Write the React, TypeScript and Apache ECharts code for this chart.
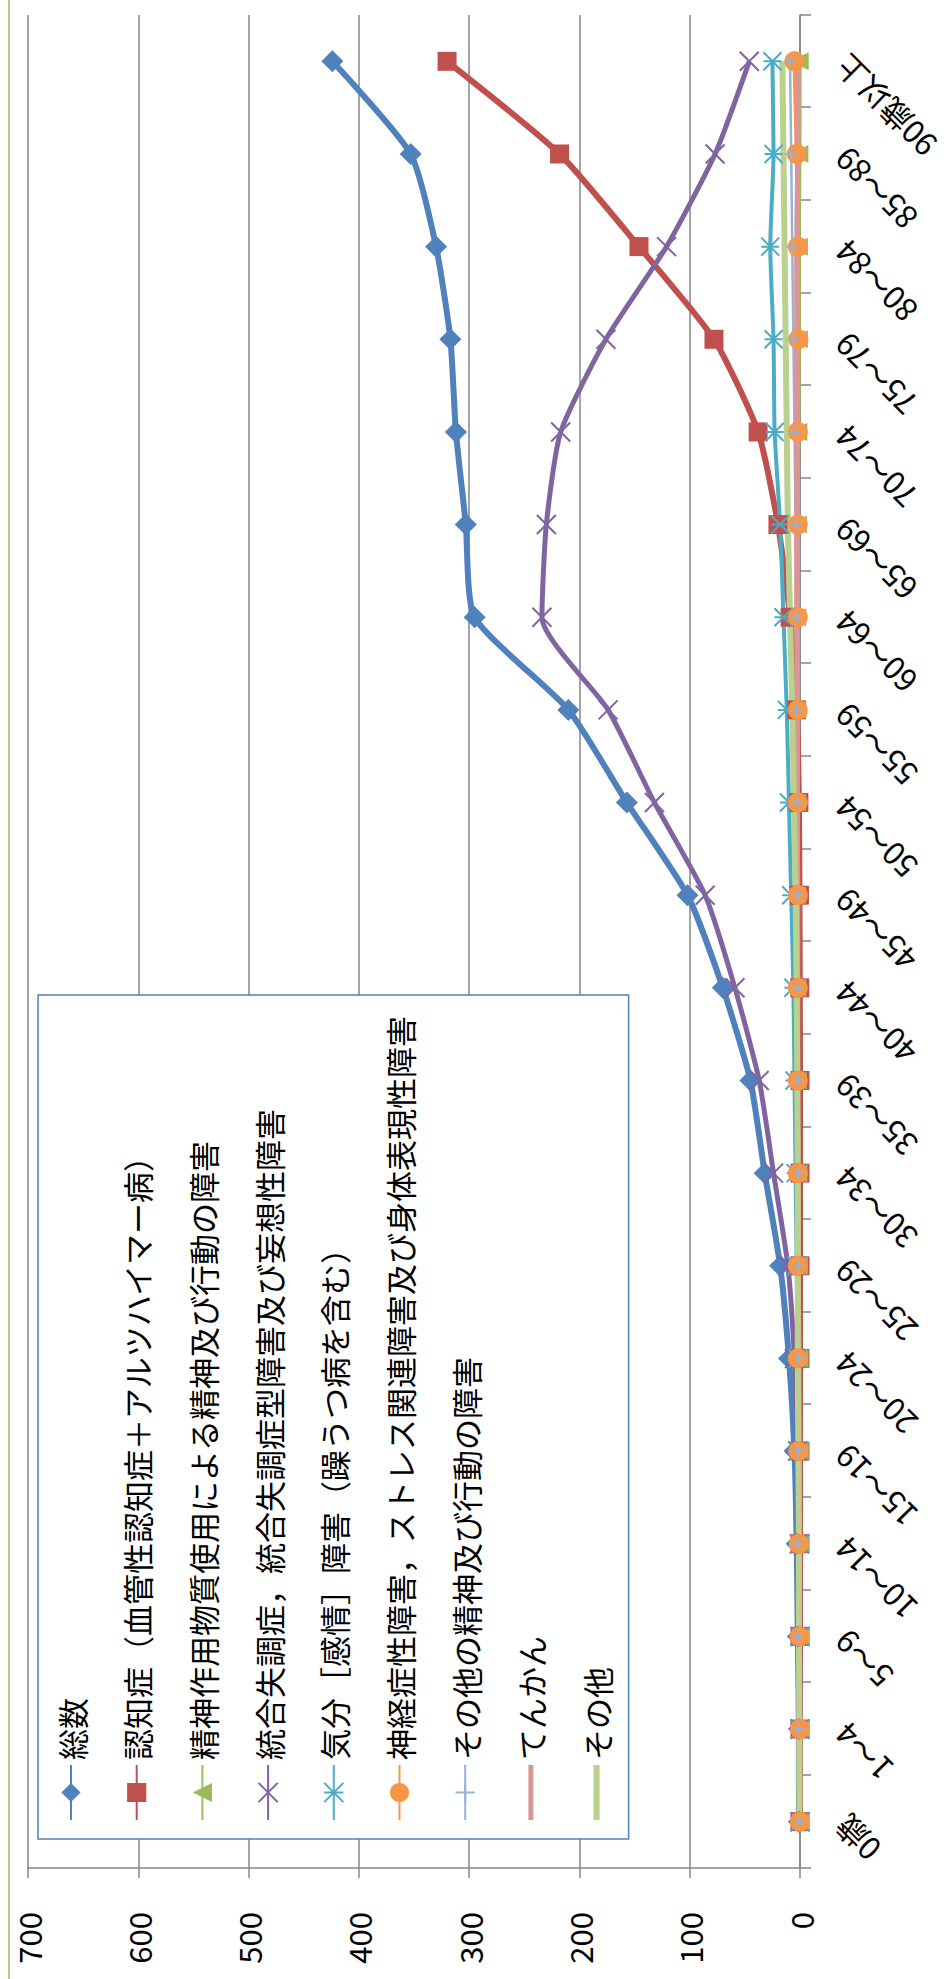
import React, { useEffect, useRef } from "react";
import * as echarts from "echarts";

const categories = ["0歳", "1～4", "5～9", "10～14", "15～19", "20～24", "25～29", "30～34", "35～39", "40～44", "45～49", "50～54", "55～59", "60～64", "65～69", "70～74", "75～79", "80～84", "85～89", "90歳以上"];

const seriesNames = [
  "総数",
  "認知症（血管性認知症＋アルツハイマー病）",
  "精神作用物質使用による精神及び行動の障害",
  "統合失調症，統合失調症型障害及び妄想性障害",
  "気分［感情］障害（躁うつ病を含む）",
  "神経症性障害，ストレス関連障害及び身体表現性障害",
  "その他の精神及び行動の障害",
  "てんかん",
  "その他",
];

const total = [1, 1, 2, 3, 5, 10, 18, 32, 45, 70, 102, 157, 210, 295, 303, 312, 317, 330, 353, 424];
const dementia = [0, 0, 0, 0, 0, 0, 0, 0, 0, 0.2, 0.5, 1, 3, 9, 20, 38, 78, 146, 218, 320];
const substance = [0, 0, 0, 0, 0.3, 0.5, 1, 1.5, 2, 2.5, 3, 3, 3, 2.5, 2, 1.5, 1, 1, 0.5, 0.3];
const schizophrenia = [0, 0, 0, 0.5, 2, 5, 11, 24, 37, 59, 86, 132, 174, 234, 230, 217, 176, 121, 77, 46];
const mood = [0, 0, 0, 0.3, 1, 2, 3, 4, 5, 6, 8, 10, 12, 15, 18, 23, 24, 27, 24, 25];
const neurotic = [0, 0, 0.3, 1, 1.5, 2, 2, 2, 2, 2, 2, 2, 2, 2, 2, 2, 1.5, 2, 3, 5];
const otherMental = [0.5, 1, 2, 2, 1.5, 1, 1.5, 1.5, 2, 2, 2, 2.5, 3, 3.5, 4, 5, 6, 7, 8, 9];
const epilepsy = [0.5, 1, 1, 1, 1, 1.5, 1.5, 2, 2, 2, 2, 2.5, 2.5, 3, 3, 3, 3, 3, 2, 1.5];
const others = [0.5, 0.5, 1, 1, 1.5, 2, 2, 2, 2.5, 3, 4, 5.5, 7, 9, 11, 12, 13, 14, 15, 16];

const valueTicks = [0, 100, 200, 300, 400, 500, 600, 700];

const FONT = "'Noto Sans CJK JP', 'Noto Sans', sans-serif";
const W = 1979;
const H = 949;

const X_PATH = "path://M0,0L10,10M10,0L0,10";
const STAR_PATH = "path://M0,0L10,10M10,0L0,10M5,0L5,10";
const PLUS_PATH = "path://M5,0L5,10M0,5L10,5";

export default function App() {
  const ref = useRef<HTMLDivElement>(null);

  useEffect(() => {
    if (!ref.current) return;
    const chart = echarts.init(ref.current, null, { renderer: "svg" });

    const dataSets = [total, dementia, substance, schizophrenia, mood, neurotic, otherMental, epilepsy, others];
    const styles = [
      { color: "#4F81BD", symbol: "diamond", size: 22, width: 6, stroke: false, show: true },
      { color: "#C0504D", symbol: "rect", size: 19, width: 6, stroke: false, show: true },
      { color: "#9BBB59", symbol: "triangle", size: 18, width: 4, stroke: false, show: true },
      { color: "#8064A2", symbol: X_PATH, size: 19, width: 5, stroke: true, show: true },
      { color: "#4BACC6", symbol: STAR_PATH, size: 18, width: 4, stroke: true, show: true },
      { color: "#F79646", symbol: "circle", size: 20, width: 4, stroke: false, show: true },
      { color: "#95B3D7", symbol: PLUS_PATH, size: 12, width: 2.5, stroke: true, show: true },
      { color: "#D99694", symbol: "none", size: 0, width: 5, stroke: false, show: false },
      { color: "#B9D08F", symbol: "none", size: 0, width: 6, stroke: false, show: false },
    ];

    const series = dataSets.map((d, i) => {
      const s = styles[i];
      return {
        name: seriesNames[i],
        type: "line",
        data: d,
        smooth: 0.2,
        symbol: s.symbol,
        symbolSize: s.size,
        showSymbol: s.show,
        lineStyle: { color: s.color, width: s.width },
        itemStyle: s.stroke
          ? { color: s.color, borderColor: s.color, borderWidth: 2 }
          : { color: s.color, borderWidth: 0 },
        emphasis: { disabled: true },
        z: 2,
      };
    });

    const legendData = seriesNames.map((n, i) => {
      if (i === 7) return { name: n, icon: "path://M0,0L55,0L55,5L0,5Z" };
      if (i === 8) return { name: n, icon: "path://M0,0L55,0L55,6L0,6Z" };
      return n;
    });

    chart.setOption({
      animation: false,
      backgroundColor: "#ffffff",
      textStyle: { fontFamily: FONT },
      grid: { left: 111, right: 15, top: 28, bottom: 149, containLabel: false },
      xAxis: {
        type: "category",
        data: categories,
        boundaryGap: true,
        axisLine: { show: true, lineStyle: { color: "#868686", width: 1.5 } },
        axisTick: { show: true, inside: false, length: 11, alignWithLabel: false, lineStyle: { color: "#868686", width: 1.5 } },
        axisLabel: { rotate: 45, margin: 40, fontSize: 31, color: "#000000", fontFamily: FONT, interval: 0 },
        splitLine: { show: false },
      },
      yAxis: {
        type: "value",
        min: 0,
        max: 700,
        interval: 100,
        axisLine: { show: true, lineStyle: { color: "#868686", width: 1.5 } },
        axisTick: { show: true, inside: false, length: 10, lineStyle: { color: "#868686", width: 1.5 } },
        axisLabel: {
          margin: 44,
          fontSize: 31,
          color: "#000000",
          fontFamily: FONT,
          formatter: (v: number) => (valueTicks.includes(v) ? String(v) : ""),
        },
        splitLine: { show: true, lineStyle: { color: "#868686", width: 1.5 } },
      },
      legend: {
        orient: "vertical",
        left: 140,
        top: 38,
        padding: [13, 21, 12, 18],
        itemWidth: 55,
        itemHeight: 24,
        itemGap: 25.7,
        symbolKeepAspect: true,
        borderColor: "#4F81BD",
        borderWidth: 1.5,
        backgroundColor: "#ffffff",
        textStyle: { fontSize: 31, lineHeight: 40, color: "#000000", fontFamily: FONT },
        data: legendData,
      },
      graphic: [
        {
          type: "line",
          shape: { x1: 0, y1: 9, x2: W, y2: 9 },
          style: { stroke: "#9BBB59", lineWidth: 1.5 },
          silent: true,
        },
      ],
      series,
    });

    return () => chart.dispose();
  }, []);

  return (
    <div style={{ position: "absolute", left: 0, top: 0, width: H, height: W, overflow: "hidden", background: "#fff" }}>
      <div
        ref={ref}
        style={{
          position: "absolute",
          left: 0,
          top: 0,
          width: W,
          height: H,
          transformOrigin: "0 0",
          transform: `translateY(${W}px) rotate(-90deg)`,
        }}
      />
    </div>
  );
}
